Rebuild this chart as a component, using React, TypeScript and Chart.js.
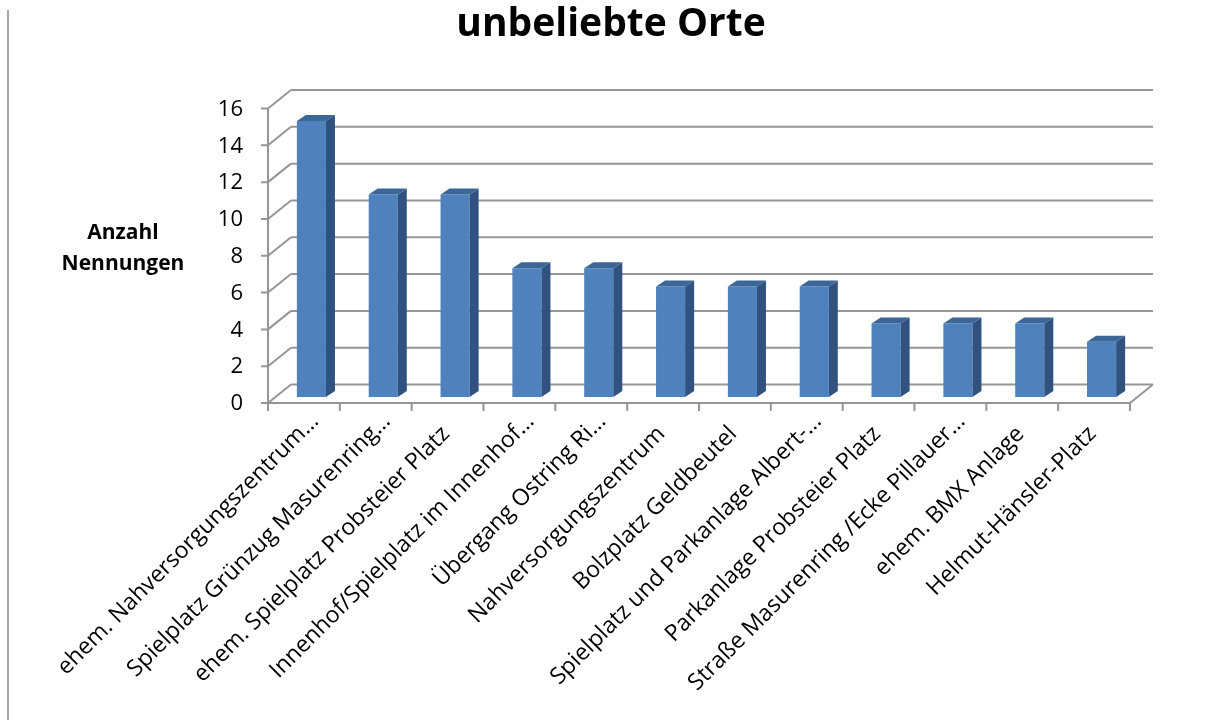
import React, { useEffect, useRef } from "react";
import { Chart, registerables } from "chart.js";

Chart.register(...registerables);

const chartTitle = "unbeliebte Orte";
const axisTitleLines = ["Anzahl", "Nennungen"];
const categories = [
  "ehem. Nahversorgungszentrum…",
  "Spielplatz Grünzug Masurenring…",
  "ehem. Spielplatz Probsteier Platz",
  "Innenhof/Spielplatz im Innenhof…",
  "Übergang Ostring Ri…",
  "Nahversorgungszentrum",
  "Bolzplatz Geldbeutel",
  "Spielplatz und Parkanlage Albert-…",
  "Parkanlage Probsteier Platz",
  "Straße Masurenring /Ecke Pillauer…",
  "ehem. BMX Anlage",
  "Helmut-Hänsler-Platz",
];
const values = [15, 11, 11, 7, 7, 6, 6, 6, 4, 4, 4, 3];
const yTicks = [0, 2, 4, 6, 8, 10, 12, 14, 16];

const GRID = "#969696";
const FRONT = "#4F81BD";
const SIDE = "#31527E";
const TOP = "#3B6698";
const FONT = "'Open Sans', 'DejaVu Sans', sans-serif";

// 3D geometry (pixels)
const WALL_DX = 23;
const WALL_DY = 18.5;
const BAR_DX = 7.5;
const BAR_DY = 6;
const DEPTH_DX = 9;
const DEPTH_DY = 6;

const threeD = {
  id: "threeD",
  beforeDatasetsDraw(chart: any) {
    const { ctx, chartArea: a, scales } = chart;
    const x = scales.x;
    const y = scales.y;
    ctx.save();
    // outer left border line of the picture
    ctx.strokeStyle = "#A6A6A6";
    ctx.lineWidth = 2;
    ctx.beginPath();
    ctx.moveTo(8, 10);
    ctx.lineTo(8, 720);
    ctx.stroke();

    ctx.strokeStyle = GRID;
    ctx.lineWidth = 2;
    ctx.lineCap = "butt";
    const y0 = y.getPixelForValue(0);
    const yMax = y.getPixelForValue(yTicks[yTicks.length - 1]);
    for (const v of yTicks) {
      const py = y.getPixelForValue(v);
      ctx.beginPath();
      // back wall gridline
      ctx.moveTo(a.left + WALL_DX, py - WALL_DY);
      ctx.lineTo(a.right + WALL_DX, py - WALL_DY);
      // side wall diagonal
      ctx.moveTo(a.left, py);
      ctx.lineTo(a.left + WALL_DX, py - WALL_DY);
      // tick mark
      ctx.moveTo(a.left - 7, py);
      ctx.lineTo(a.left, py);
      ctx.stroke();
    }
    // front vertical axis
    ctx.beginPath();
    ctx.moveTo(a.left, y0);
    ctx.lineTo(a.left, yMax);
    // floor front edge + right diagonal
    ctx.moveTo(a.left, y0);
    ctx.lineTo(a.right, y0);
    ctx.lineTo(a.right + WALL_DX, y0 - WALL_DY);
    ctx.stroke();
    // category ticks
    const n = categories.length;
    ctx.beginPath();
    for (let i = 0; i <= n; i++) {
      let px: number;
      if (i === 0) px = a.left;
      else if (i === n) px = a.right;
      else px = (x.getPixelForValue(i - 1) + x.getPixelForValue(i)) / 2;
      ctx.moveTo(px, y0);
      ctx.lineTo(px, y0 + 8);
    }
    ctx.stroke();
    ctx.restore();

    // shift the bar plane into the depth of the floor
    ctx.save();
    ctx.translate(BAR_DX, -BAR_DY);
  },
  afterDatasetsDraw(chart: any) {
    const { ctx } = chart;
    const meta = chart.getDatasetMeta(0);
    for (const el of meta.data) {
      const p = el.getProps(["x", "y", "base", "width"], true);
      const l = p.x - p.width / 2;
      const r = p.x + p.width / 2;
      const t = p.y;
      const b = p.base;
      // side face
      ctx.fillStyle = SIDE;
      ctx.beginPath();
      ctx.moveTo(r, t);
      ctx.lineTo(r + DEPTH_DX, t - DEPTH_DY);
      ctx.lineTo(r + DEPTH_DX, b - DEPTH_DY);
      ctx.lineTo(r, b);
      ctx.closePath();
      ctx.fill();
      // top face
      ctx.fillStyle = TOP;
      ctx.beginPath();
      ctx.moveTo(l, t);
      ctx.lineTo(l + DEPTH_DX, t - DEPTH_DY);
      ctx.lineTo(r + DEPTH_DX, t - DEPTH_DY);
      ctx.lineTo(r, t);
      ctx.closePath();
      ctx.fill();
    }
    ctx.restore();
  },
  afterDraw(chart: any) {
    const { ctx, chartArea: a, scales } = chart;
    const x = scales.x;
    const y = scales.y;
    ctx.save();
    ctx.fillStyle = "#000";
    // title
    ctx.font = `bold 39px ${FONT}`;
    ctx.textAlign = "center";
    ctx.textBaseline = "alphabetic";
    ctx.fillText(chartTitle, 611, 36);
    // axis title
    ctx.font = `bold 21px ${FONT}`;
    ctx.fillText(axisTitleLines[0], 123, 239);
    ctx.fillText(axisTitleLines[1], 123, 270);
    // y tick labels
    ctx.font = `22px ${FONT}`;
    ctx.textAlign = "right";
    ctx.textBaseline = "middle";
    for (const v of yTicks) {
      ctx.fillText(String(v), a.left - 25, y.getPixelForValue(v) + 1);
    }
    // x labels rotated 45°
    ctx.font = `23px ${FONT}`;
    const y0 = y.getPixelForValue(0);
    categories.forEach((label, i) => {
      const cx = x.getPixelForValue(i);
      ctx.save();
      ctx.translate(cx + 3, y0 + 32);
      ctx.rotate(-Math.PI / 4);
      ctx.textBaseline = "alphabetic";
      if (label.endsWith("…")) {
        ctx.textAlign = "right";
        ctx.fillText(label.slice(0, -1), 0, 0);
        ctx.textAlign = "left";
        ctx.fillText("…", 0, 0);
      } else {
        ctx.textAlign = "right";
        ctx.fillText(label, 0, 0);
      }
      ctx.restore();
    });
    ctx.restore();
  },
};

export default function App() {
  const ref = useRef<HTMLCanvasElement>(null);
  useEffect(() => {
    if (!ref.current) return;
    const chart = new Chart(ref.current, {
      type: "bar",
      data: {
        labels: categories,
        datasets: [
          {
            data: values,
            backgroundColor: FRONT,
            borderWidth: 0,
            barPercentage: 0.405,
            categoryPercentage: 1,
          },
        ],
      },
      options: {
        animation: false,
        responsive: false,
        devicePixelRatio: 1,
        events: [],
        layout: { padding: { left: 268, top: 108.5, right: 83, bottom: 317 } },
        plugins: {
          legend: { display: false },
          title: { display: false },
          tooltip: { enabled: false },
        },
        scales: {
          x: { type: "category", display: false, offset: true },
          y: { type: "linear", display: false, min: 0, max: 16, ticks: { stepSize: 2 } },
        },
      },
      plugins: [threeD],
    });
    return () => chart.destroy();
  }, []);
  return (
    <div style={{ position: "fixed", left: 0, top: 0, width: 1213, height: 720, background: "#fff" }}>
      <canvas ref={ref} width={1213} height={720} style={{ width: 1213, height: 720 }} />
    </div>
  );
}
